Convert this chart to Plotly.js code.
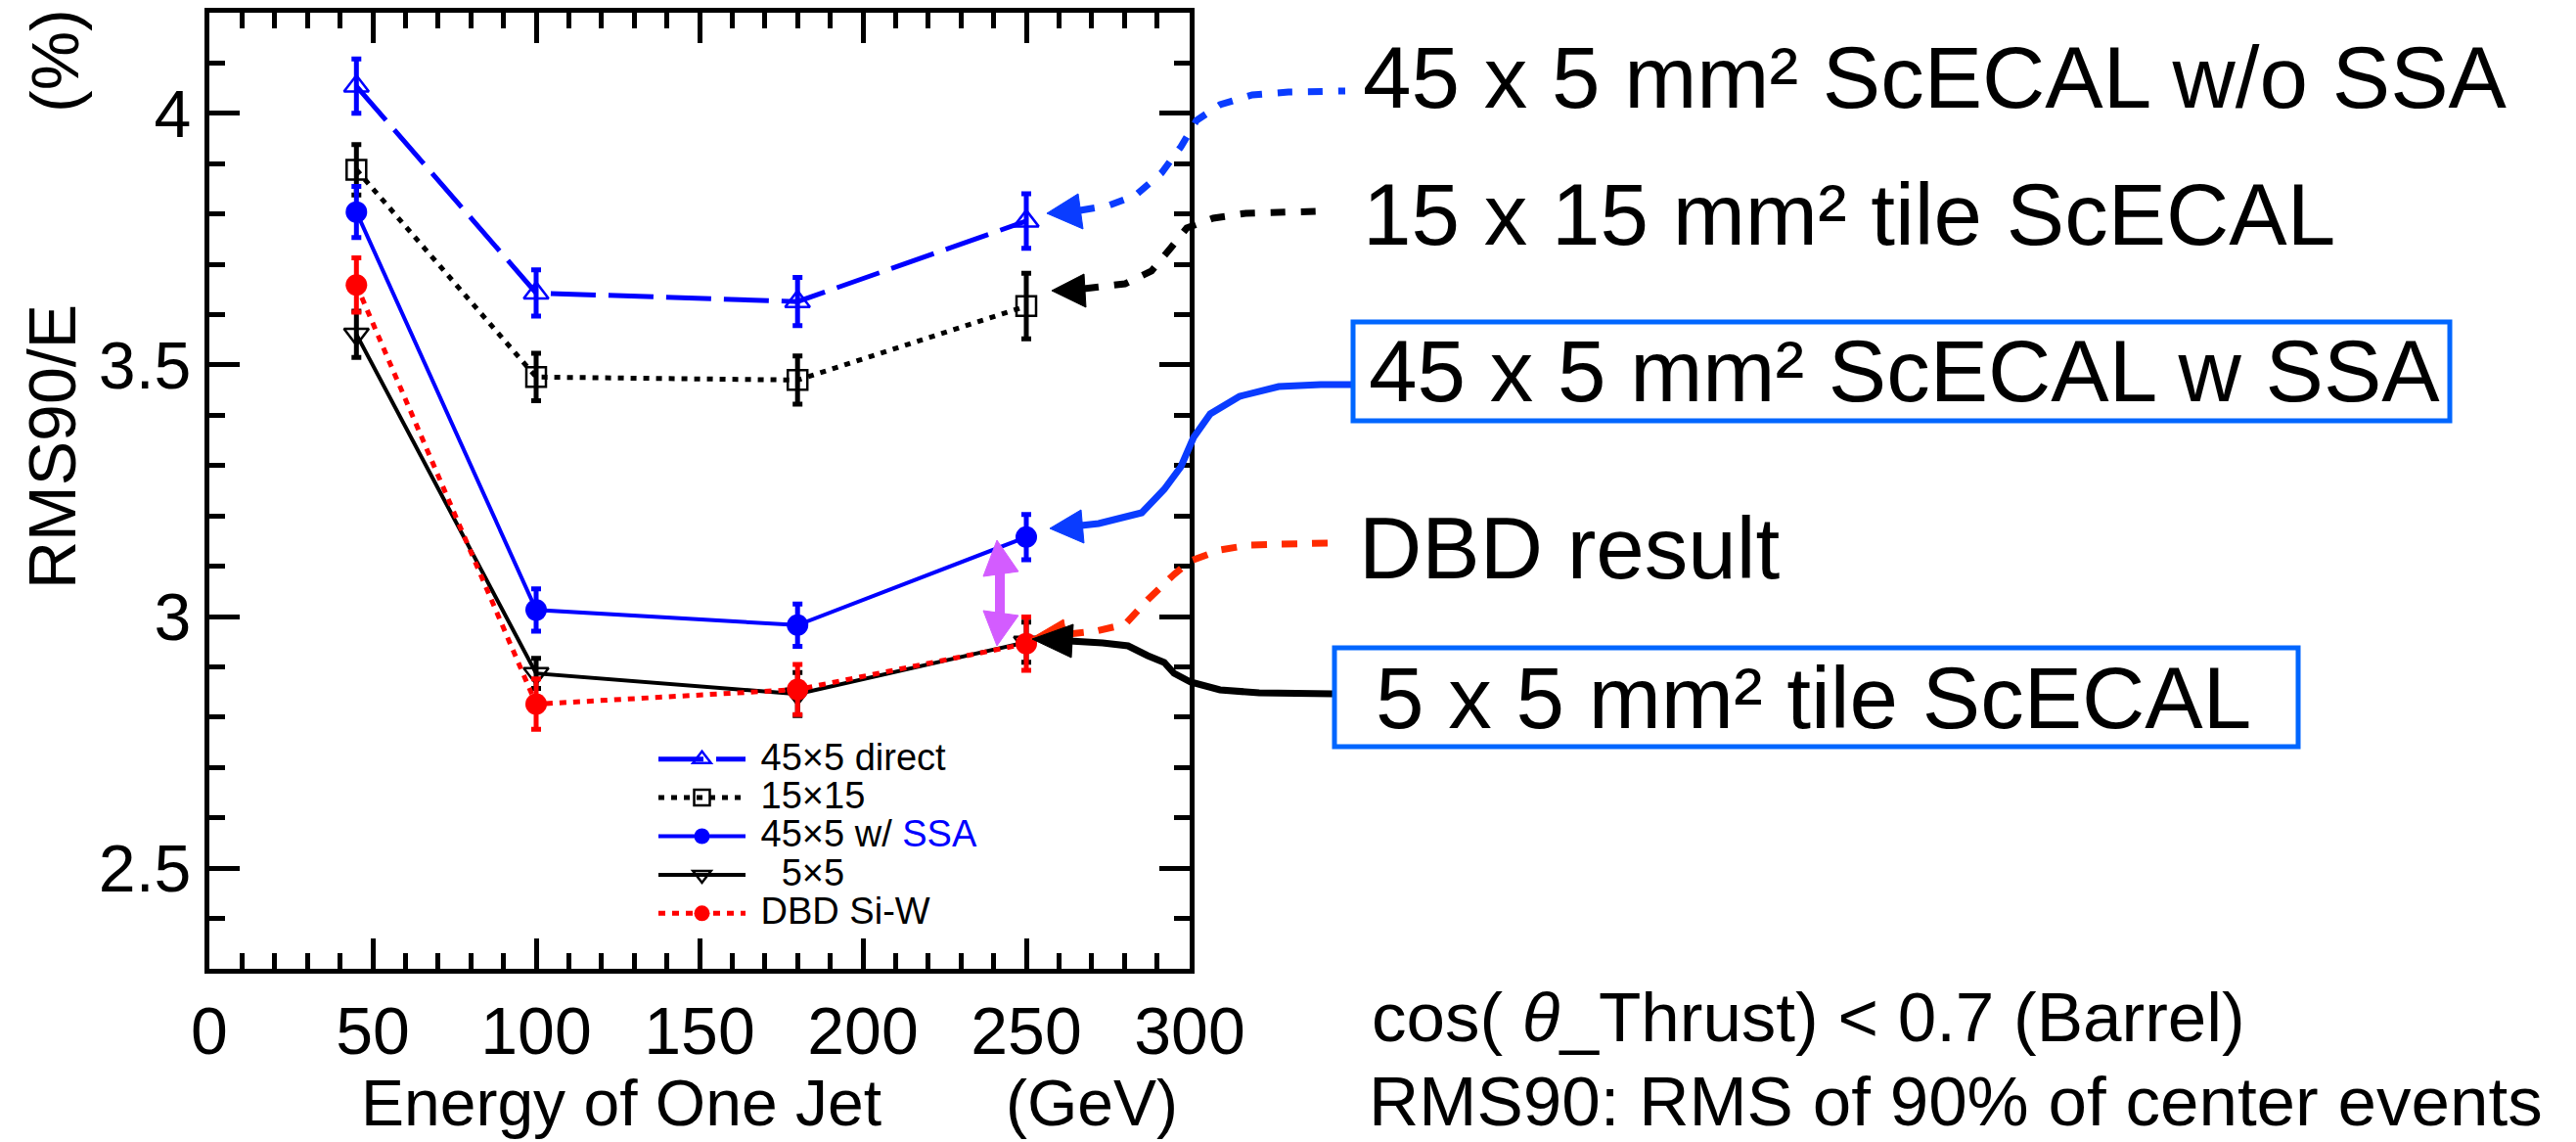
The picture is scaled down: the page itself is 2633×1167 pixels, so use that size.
<!DOCTYPE html>
<html>
<head>
<meta charset="utf-8">
<script src="https://cdn.plot.ly/plotly-3.0.1.min.js"></script>
<style>html,body{margin:0;padding:0;background:#fff;} #chart{width:2633px;height:1167px;}</style>
</head>
<body>
<div id="chart"></div>
<script>
// ---------------- data ----------------
const energy = [45, 100, 180, 250];

const direct45x5 = [4.054, 3.643, 3.626, 3.786];
const direct45x5Err = [0.054, 0.046, 0.048, 0.054];

const tile15x15 = [3.888, 3.476, 3.470, 3.617];
const tile15x15Err = [0.050, 0.047, 0.048, 0.065];

const ssa45x5 = [3.804, 3.013, 2.983, 3.158];
const ssa45x5Err = [0.051, 0.042, 0.042, 0.045];

const tile5x5 = [3.561, 2.887, 2.846, 2.949];
const tile5x5Err = [0.046, 0.030, 0.043, 0.040];

const dbdSiW = [3.659, 2.826, 2.855, 2.946];
const dbdSiWErr = [0.054, 0.050, 0.050, 0.053];

const seriesNames = ['45×5 direct', '15×15', '45×5 w/ <span style="color:#0000ff">SSA</span>', '\u00a0\u00a05×5', 'DBD Si-W'];

const xTickVals = [0, 50, 100, 150, 200, 250, 300];
const xTickText = ['0', '50', '100', '150', '200', '250', '300'];
const yTickVals = [2.5, 3, 3.5, 4];
const yTickText = ['2.5', '3', '3.5', '4'];

const rightLabels = [
  '45 x 5 mm² ScECAL w/o SSA',
  '15 x 15 mm² tile ScECAL',
  '45 x 5 mm² ScECAL w SSA',
  'DBD result',
  '5 x 5 mm² tile ScECAL'
];
const noteLines = [
  'cos( <i>θ</i>_Thrust) &lt; 0.7 (Barrel)',
  'RMS90: RMS of 90% of center events'
];

// ---------------- geometry helpers (page pixels -> paper) ----------------
const W = 2633, H = 1167;
const PL = 214, PR = 1216, PT = 13, PB = 990;
const px = x => (x - PL) / (PR - PL);
const py = y => (PB - y) / (PB - PT);
const pathOf = (pts, close) => pts.map((p, i) => (i ? 'L' : 'M') + px(p[0]).toFixed(5) + ',' + py(p[1]).toFixed(5)).join('') + (close ? 'Z' : '');

const FONT = 'Liberation Sans, Arial, Helvetica, sans-serif';
const legendSpan = s => '<span style="font-size:38px">\u00a0' + s + '</span>';

// ---------------- traces ----------------
const errStyle = (arr, color) => ({type: 'data', array: arr, visible: true, color: color, thickness: 5, width: 5});

const traces = [
  {
    x: energy, y: direct45x5, name: legendSpan(seriesNames[0]), mode: 'lines+markers',
    line: {color: '#0000ff', width: 5, dash: '46px,13px'},
    marker: {symbol: 'triangle-up-open', size: 22, color: '#0000ff', line: {color: '#0000ff', width: 2.5}},
    error_y: errStyle(direct45x5Err, '#0000ff')
  },
  {
    x: energy, y: tile15x15, name: legendSpan(seriesNames[1]), mode: 'lines+markers',
    line: {color: '#000000', width: 5, dash: '6px,7px'},
    marker: {symbol: 'square-open', size: 20, color: '#000000', line: {color: '#000000', width: 2.5}},
    error_y: errStyle(tile15x15Err, '#000000')
  },
  {
    x: energy, y: ssa45x5, name: legendSpan(seriesNames[2]), mode: 'lines+markers',
    line: {color: '#0000ff', width: 4},
    marker: {symbol: 'circle', size: 22, color: '#0000ff'},
    error_y: errStyle(ssa45x5Err, '#0000ff')
  },
  {
    x: energy, y: tile5x5, name: legendSpan(seriesNames[3]), mode: 'lines+markers',
    line: {color: '#000000', width: 4},
    marker: {symbol: 'triangle-down-open', size: 22, color: '#000000', line: {color: '#000000', width: 2.5}},
    error_y: errStyle(tile5x5Err, '#000000')
  },
  {
    x: energy, y: dbdSiW, name: legendSpan(seriesNames[4]), mode: 'lines+markers',
    line: {color: '#ff0000', width: 5, dash: '7px,7px'},
    marker: {symbol: 'circle', size: 22, color: '#ff0000'},
    error_y: errStyle(dbdSiWErr, '#ff0000')
  }
];

// ---------------- decorations (connectors, boxes, double arrow) ----------------
const CBLUE = '#0a3cff', CRED = '#ff2a00', CBOX = '#0066ff', CMAG = '#d35cff';
const shapes = [];
const poly = (pts, color, width, dash) => shapes.push({type: 'path', xref: 'paper', yref: 'paper', layer: 'above', path: pathOf(pts, false), line: {color: color, width: width, dash: dash || 'solid'}});
const tri = (pts, color) => shapes.push({type: 'path', xref: 'paper', yref: 'paper', layer: 'above', path: pathOf(pts, true), fillcolor: color, line: {color: color, width: 1}});
const rect = (x0, y0, x1, y1, color) => shapes.push({type: 'rect', xref: 'paper', yref: 'paper', layer: 'above', x0: px(x0), x1: px(x1), y0: py(y1), y1: py(y0), line: {color: color, width: 5}, fillcolor: 'rgba(0,0,0,0)'});

// w/o SSA (blue dashed)
poly([[1104,215],[1133,210],[1160,200],[1187,177],[1207,150],[1223,123],[1247,107],[1280,97],[1317,94],[1375,93]], CBLUE, 7, '15px,16px');
tri([[1070,218],[1102,198],[1107,234]], CBLUE);
// 15x15 (black dashed)
poly([[1108,295],[1150,290],[1177,277],[1197,253],[1213,233],[1240,223],[1273,218],[1345,216]], '#000000', 7, '15px,16px');
tri([[1075,297],[1108,280],[1110,314]], '#000000');
// w SSA (blue solid)
poly([[1105,537],[1123,535],[1167,524],[1190,500],[1207,477],[1220,447],[1237,423],[1267,405],[1307,395],[1350,393],[1382,393]], CBLUE, 7);
tri([[1073,540],[1105,521],[1108,555]], CBLUE);
// DBD (red dashed)
poly([[1357,555],[1310,556],[1277,557],[1247,562],[1217,573],[1200,587],[1173,613],[1150,638],[1120,645],[1083,649],[1065,651]], CRED, 7, '16px,15px');
tri([[1053,653],[1087,633],[1092,660]], CRED);
// 5x5 (black solid)
poly([[1093,655],[1127,657],[1153,660],[1173,670],[1190,677],[1200,688],[1217,697],[1247,705],[1287,708],[1362,709]], '#000000', 7);
tri([[1055,653],[1097,638],[1095,672]], '#000000');
// boxes
rect(1383, 329, 2504, 430, CBOX);
rect(1364, 662, 2349, 763, CBOX);
// magenta double arrow
poly([[1022,585],[1022,628]], CMAG, 10);
tri([[1019,552],[1005,589],[1041,584]], CMAG);
tri([[1019,660],[1005,624],[1041,629]], CMAG);

// ---------------- text annotations ----------------
const ann = (text, x, y, size, opts) => Object.assign({
  text: text, xref: 'paper', yref: 'paper', x: px(x), y: py(y),
  xanchor: 'left', yanchor: 'middle', showarrow: false,
  font: {family: FONT, size: size, color: '#000000'}
}, opts || {});

const annotations = [
  ann(rightLabels[0], 1391, 79, 89),
  ann(rightLabels[1], 1391, 219, 89),
  ann(rightLabels[2], 1397, 379, 89),
  ann(rightLabels[3], 1387, 560, 89),
  ann(rightLabels[4], 1404, 713, 89),
  ann(noteLines[0], 1400, 1039, 71),
  ann(noteLines[1], 1397, 1125, 71),
  ann('Energy of One Jet', 367, 1127, 66),
  ann('(GeV)', 1026, 1127, 66),
  ann('RMS90/E', 53, 457, 68, {xanchor: 'center', textangle: -90}),
  ann('(%)', 56, 62, 68, {xanchor: 'center', textangle: -90})
];

// ---------------- layout ----------------
const axisCommon = {
  showline: true, linewidth: 5, linecolor: '#000', mirror: 'allticks',
  ticks: 'inside', ticklen: 31, tickwidth: 5, tickcolor: '#000',
  showgrid: false, zeroline: false,
  tickfont: {family: FONT, size: 68, color: '#000'},
  tickmode: 'array'
};

const layout = {
  width: W, height: H,
  margin: {l: PL, r: W - PR, t: PT, b: H - PB, pad: 0},
  paper_bgcolor: '#ffffff', plot_bgcolor: '#ffffff',
  font: {family: FONT, color: '#000'},
  showlegend: true,
  legend: {
    x: px(668), y: py(751), xanchor: 'left', yanchor: 'top',
    bgcolor: 'rgba(0,0,0,0)', borderwidth: 0,
    font: {family: FONT, size: 28, color: '#000'},
    itemwidth: 89, tracegroupgap: 0
  },
  xaxis: Object.assign({}, axisCommon, {
    range: [0, 300], tickvals: xTickVals, ticktext: xTickText,
    minor: {dtick: 10, tick0: 0, ticks: 'inside', ticklen: 16, tickwidth: 5, tickcolor: '#000'}
  }),
  yaxis: Object.assign({}, axisCommon, {
    range: [2.3, 4.2], tickvals: yTickVals, ticktext: yTickText,
    minor: {dtick: 0.1, tick0: 2.3, ticks: 'inside', ticklen: 16, tickwidth: 5, tickcolor: '#000'}
  }),
  shapes: shapes,
  annotations: annotations
};

Plotly.newPlot('chart', traces, layout, {displayModeBar: false, staticPlot: true});
</script>
</body>
</html>
